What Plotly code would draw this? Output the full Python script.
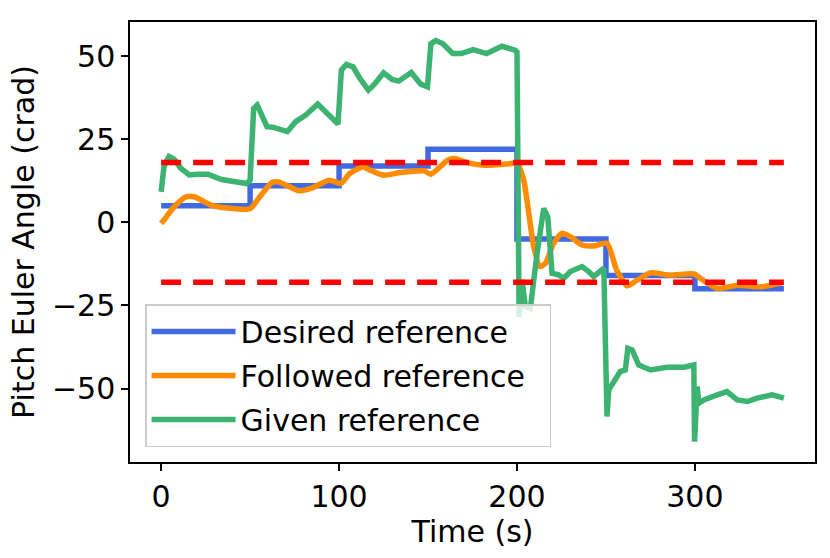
import plotly.graph_objects as go

# step targets (every 50 s)
t_desired = [0, 50, 100, 150, 200, 250, 300, 350]
desired = [5, 11, 17, 22, -5, -16, -20, -20]

t_followed = [0, 1.6, 7.3, 14, 18.7, 28, 35.8, 50, 54.7, 62.3, 66, 77.5, 85, 94.6,
              101, 106, 113.6, 117.4, 125, 134.5, 147.8, 151.6, 161, 165, 172.5, 182,
              199, 200, 203.8, 209.4, 213, 216, 220.6, 225.3, 230, 236.6, 243, 250.6,
              256, 262, 267.5, 275, 286, 299.4, 303, 312.5, 323.8, 337, 349]
followed = [-0.3, 0.7, 4.7, 7.7, 7.7, 5.2, 4.4, 4.1, 7.2, 12.0, 12.2, 9.5, 10.4, 12.7,
            11.7, 14.7, 16.7, 15.7, 14.2, 15.0, 15.5, 14.5, 18.7, 19.2, 17.9, 17.2,
            17.9, 18.2, 12.7, -7.3, -13.3, -12.3, -6.3, -3.3, -4.3, -6.8, -7.1, -6.3,
            -14.3, -19.1, -17.4, -15.2, -15.9, -15.5, -16.8, -19.9, -18.9, -19.4, -18.2]

t_given = [0, 1.6, 4.4, 7.3, 11, 15.8, 20.6, 26.3, 33.9, 41.5, 48, 50, 52, 54, 59.5,
           63.3, 70.9, 75.6, 81.3, 88, 92.7, 99.4, 101.3, 104.1, 107.9, 111.7, 116.5,
           120.3, 125, 129.8, 133.5, 140.6, 145.9, 149.7, 151.6, 154.4, 158.2, 163.9,
           168.7, 175.3, 182.9, 191.5, 199, 200, 201.2, 202.8, 204.7, 207.5, 211.3,
           215, 217.3, 219.7, 223.4, 226.3, 230, 232.8, 236.6, 240.3, 243.1, 248.8,
           250.6, 251.6, 258, 260.9, 262.3, 264.7, 268.4, 275, 284.4, 293.8, 299.4,
           299.8, 301.3, 302.2, 305, 312.5, 318, 323.8, 329.4, 335, 343.4, 350]
given = [9.2, 16.8, 19.8, 19.0, 16.3, 14.3, 14.5, 14.5, 12.9, 12.4, 11.7, 12.7, 34.3,
         35.3, 28.8, 28.6, 27.3, 30.3, 32.3, 35.6, 33.3, 29.6, 45.8, 47.5, 46.8, 43.3,
         39.8, 41.8, 45.0, 43.0, 42.5, 45.1, 41.6, 40.8, 53.8, 54.7, 53.8, 50.8, 50.8,
         52.0, 50.8, 53.0, 51.8, 51.3, -28.4, -17.3, -25.3, -25.9, -9.3, 4.2, 1.7,
         -15.3, -15.8, -16.8, -14.8, -14.3, -13.3, -14.8, -16.3, -13.8, -58.4, -50.4,
         -44.9, -44.4, -37.9, -38.4, -42.9, -44.4, -43.6, -43.6, -42.9, -66.0, -49.4,
         -54.4, -53.4, -51.9, -50.9, -53.4, -53.9, -52.9, -51.9, -52.9]

limit = 18
t_limit = [0, 350]

font = "DejaVu Sans"
fs = 30

fig = go.Figure()
fig.add_trace(go.Scatter(x=t_desired, y=desired, mode="lines", line_shape="hv",
                         line=dict(color="#4169E1", width=5.5), name="Desired reference",
                         legendgroup="a"))
# trailing nbsp just widens the legend box a bit, like matplotlib's padding
fig.add_trace(go.Scatter(x=t_followed, y=followed, mode="lines", line_shape="spline",
                         line=dict(color="#FF8C00", width=5.5, smoothing=0.6),
                         name="Followed reference\u00a0\u00a0", legendgroup="b"))
fig.add_trace(go.Scatter(x=t_given, y=given, mode="lines",
                         line=dict(color="#3CB371", width=5.5), name="Given reference",
                         legendgroup="c"))
for s in (1, -1):
    fig.add_trace(go.Scatter(x=t_limit, y=[s * limit] * 2, mode="lines",
                             line=dict(color="#FF0000", width=5.5, dash="20px,12px"),
                             showlegend=False, hoverinfo="skip"))

axis = dict(showline=True, linecolor="black", linewidth=1.5, mirror=True,
            ticks="outside", ticklen=7, tickwidth=1.5, tickcolor="black",
            showgrid=False, zeroline=False, tickfont=dict(size=fs, color="black"))
fig.update_xaxes(range=[-17.5, 367.5], tickvals=[0, 100, 200, 300],
                 title=dict(text="Time (s)", font=dict(size=fs, color="black"), standoff=2),
                 **axis)
fig.update_yaxes(range=[-72.1, 60.3], tickvals=[-50, -25, 0, 25, 50],
                 title=dict(text="Pitch Euler Angle (crad)", font=dict(size=fs, color="black"),
                            standoff=8),
                 **axis)

fig.update_layout(
    width=830, height=558,
    margin=dict(l=130, r=15, t=22, b=96),
    paper_bgcolor="white", plot_bgcolor="white",
    font=dict(family=font, size=fs, color="black"),
    legend=dict(x=0.022, y=0.034, xanchor="left", yanchor="bottom",
                bgcolor="rgba(255,255,255,0.8)", bordercolor="#cccccc", borderwidth=1.5,
                font=dict(size=fs), itemwidth=84, tracegroupgap=2),
    showlegend=True,
)

fig.write_html("out.html", config={"displayModeBar": False},
               post_script="document.body.style.margin='0';")
